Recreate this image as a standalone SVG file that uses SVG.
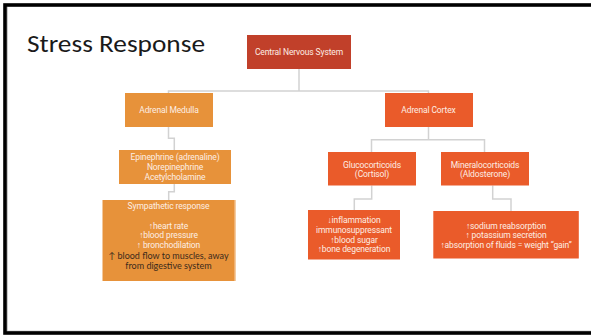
<svg xmlns="http://www.w3.org/2000/svg" width="591" height="335" viewBox="0 0 591 335">
<style>
.t{font-family:Roboto,"Liberation Sans",sans-serif;font-size:8.5px;fill:#fdeee4;text-anchor:middle;letter-spacing:-0.12px}
.d{font-family:Lato,"Liberation Sans",sans-serif;font-size:9px;fill:#3b2a1c;text-anchor:middle;font-weight:normal}
.c{fill:none;stroke:#d2d2d2;stroke-width:1.5}
.med{fill:#e7923a}
.cor{fill:#ea5b2a}
</style>
<rect x="0" y="0" width="591" height="335" fill="#ffffff"/>
<path d="M7.2 331.2 H600 M7.2 7 V331.2" fill="none" stroke="#a0a0a0" stroke-width="0.8"/>
<rect x="5" y="5" width="600" height="328" fill="none" stroke="#000" stroke-width="3.6"/>
<text x="27" y="52" font-family="Carlito,'Liberation Sans',sans-serif" font-size="25" fill="#1a1a1a" textLength="178" lengthAdjust="spacingAndGlyphs">Stress Response</text>
<g id="connectors">
<path class="c" d="M299 69 V91 M168.5 93 V91 H428.5 V93"/>
<path class="c" d="M168.5 127 V138.3 H174.3 V150"/>
<path class="c" d="M174.3 184 V191.7 H168.7 V200"/>
<path class="c" d="M428.5 127 V139.7 M371.5 152 V139.7 H484.5 V152"/>
<path class="c" d="M371.7 185.5 V199 H354.3 V210"/>
<path class="c" d="M492.7 185.5 V199 H511 V211"/>
</g>
<g id="cns">
<rect x="247" y="35" width="104" height="34" fill="#c1402a"/>
<text class="t" x="299" y="55">Central Nervous System</text>
</g>
<g id="adrenal-medulla">
<rect class="med" x="125" y="93" width="88" height="34"/>
<text class="t" x="169" y="113">Adrenal Medulla</text>
</g>
<g id="adrenal-cortex">
<rect class="cor" x="385" y="93" width="88" height="34"/>
<text class="t" x="428.5" y="113">Adrenal Cortex</text>
</g>
<g id="catecholamines">
<rect class="med" x="119" y="150" width="112" height="34"/>
<text class="t" x="175" y="160">Epinephrine (adrenaline)</text>
<text class="t" x="175" y="170">Norepinephrine</text>
<text class="t" x="175" y="180">Acetylcholamine</text>
</g>
<g id="sympathetic">
<rect class="med" x="102.5" y="200" width="133" height="81"/>
<line x1="235" y1="200" x2="235" y2="281" stroke="#f6cfa8" stroke-width="1"/>
<text class="t" x="168.5" y="209">Sympathetic response</text>
<text class="t" x="168.5" y="229.3">↑heart rate</text>
<text class="t" x="168.5" y="238.3">↑blood pressure</text>
<text class="t" x="168.5" y="248">↑ bronchodilation</text>
<text class="d" x="168.5" y="259">↑ blood flow to muscles, away</text>
<text class="d" x="168.5" y="268.8">from digestive system</text>
</g>
<g id="glucocorticoids">
<rect class="cor" x="328" y="152" width="88" height="33.5"/>
<text class="t" x="372" y="167.7">Glucocorticoids</text>
<text class="t" x="372" y="177.3">(Cortisol)</text>
</g>
<g id="mineralocorticoids">
<rect class="cor" x="441" y="152" width="88" height="33.5"/>
<text class="t" x="485" y="167.7">Mineralocorticoids</text>
<text class="t" x="485" y="177.3">(Aldosterone)</text>
</g>
<g id="gluco-effects">
<rect class="cor" x="308" y="210" width="92" height="49.5"/>
<text class="t" x="354" y="223">↓inflammation</text>
<text class="t" x="354" y="233">immunosuppressant</text>
<text class="t" x="354" y="242.7">↑blood sugar</text>
<text class="t" x="354" y="252.3">↑bone degeneration</text>
</g>
<g id="mineral-effects">
<rect class="cor" x="433.3" y="211" width="145.5" height="47.5"/>
<text class="t" x="506" y="228.7">↑sodium reabsorption</text>
<text class="t" x="506" y="238.3">↑ potassium secretion</text>
<text class="t" x="506" y="248.3">↑absorption of fluids = weight “gain”</text>
</g>
</svg>
